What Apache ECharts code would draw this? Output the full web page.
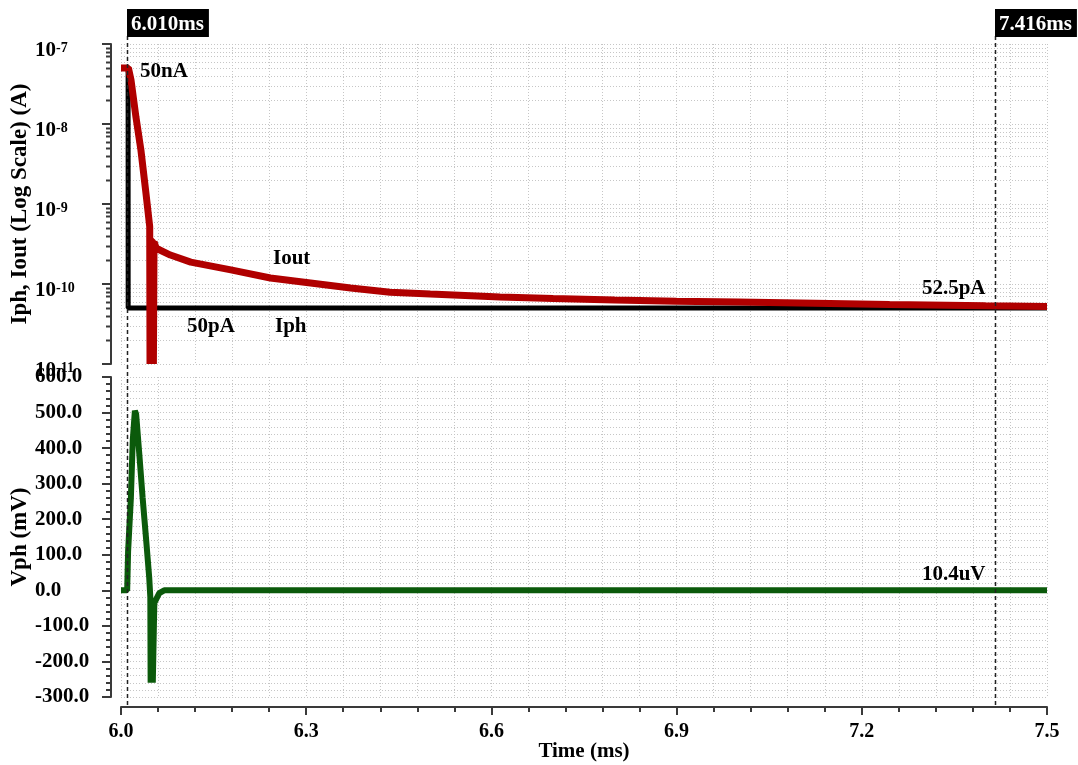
<!DOCTYPE html>
<html><head><meta charset="utf-8">
<script src="https://cdn.jsdelivr.net/npm/echarts@6/dist/echarts.min.js"></script>
<style>html,body{margin:0;padding:0;background:#fff}#c{width:1078px;height:765px}</style>
</head><body><div id="c"></div>
<script>
// ---------- data ----------
const iphTime = [6.000, 6.0115, 6.0116, 7.500];
const iphAmp  = [5e-8, 5e-8, 5e-11, 5e-11];

const ioutTime = [6.000, 6.012, 6.0162, 6.0242, 6.0323, 6.0404, 6.0465, 6.047, 6.0485, 6.052, 6.0525, 6.0535, 6.057, 6.060, 6.080, 6.113, 6.178, 6.242, 6.307, 6.372, 6.436, 6.501, 6.614, 6.700, 6.800, 6.900, 7.000, 7.100, 7.245, 7.400, 7.500];
const ioutAmp  = [5e-8, 5e-8, 3.55e-8, 1.22e-8, 4.7e-9, 1.37e-9, 5.2e-10, 1e-11, 3.5e-10, 3.3e-10, 1e-11, 3.35e-10, 2.8e-10, 2.66e-10, 2.3e-10, 1.88e-10, 1.50e-10, 1.19e-10, 1.03e-10, 8.9e-11, 7.9e-11, 7.5e-11, 6.9e-11, 6.6e-11, 6.3e-11, 6.1e-11, 5.95e-11, 5.8e-11, 5.55e-11, 5.35e-11, 5.25e-11];

const vphTime = [6.000, 6.010, 6.0115, 6.016, 6.019, 6.0225, 6.0245, 6.0296, 6.035, 6.0404, 6.0457, 6.0475, 6.048, 6.050, 6.0515, 6.054, 6.062, 6.070, 7.500];
const vphMilliVolt = [0, 0, 110, 260, 420, 505, 496, 384, 261, 149, 36, -20, -260, -140, -260, -35, -8, 0, 0.0104];

const timeTickLabels = ['6.0', '6.3', '6.6', '6.9', '7.2', '7.5'];
const logTickExponents = [-11, -10, -9, -8, -7];
const logMinorMultipliers = [2, 3, 4, 5, 6, 7, 8, 9];
const vphTickLabels = ['-300.0', '-200.0', '-100.0', '0.0', '100.0', '200.0', '300.0', '400.0', '500.0', '600.0'];

const cursorTimes  = [6.010, 7.416];
const cursorLabels = ['6.010ms', '7.416ms'];

const topNoteText  = ['50nA', 'Iout', '50pA', 'Iph', '52.5pA'];
const topNoteTime  = [6.0308, 6.2462, 6.1069, 6.2494, 7.2974];
const topNoteAmp   = [4.47e-8, 2.05e-10, 2.9e-11, 2.9e-11, 8.66e-11];
const botNoteText  = ['10.4uV'];
const botNoteTime  = [7.2974];
const botNoteMV    = [44.8];

// ---------- build ----------
const FONT = "'Liberation Serif','Times New Roman',serif";
const GRID_COLOR = '#c6c6c6';
const AXIS_COLOR = '#3a3a3a';
const T0 = 6.0, T1 = 7.5;
const zip = (a, b) => a.map((v, i) => [v, b[i]]);

const minorLogData = [];
logTickExponents.slice(0, -1).forEach(e => logMinorMultipliers.forEach(m => minorLogData.push([T0, m * Math.pow(10, e)])));

const gridLine = { show: true, lineStyle: { color: GRID_COLOR, width: 1, type: [1, 2] } };

function minorRender(params, api) {
  const v = api.value(1);
  const a = api.coord([T0, v]);
  const b = api.coord([T1, v]);
  const y = Math.round(a[1]) + 0.5;
  return { type: 'group', children: [
    { type: 'line', shape: { x1: a[0], y1: y, x2: b[0], y2: y }, style: { stroke: GRID_COLOR, lineWidth: 1, lineDash: [1, 2] } },
    { type: 'line', shape: { x1: a[0] - 10 - 5, y1: y, x2: a[0] - 10, y2: y }, style: { stroke: AXIS_COLOR, lineWidth: 2 } }
  ] };
}

function cursorRender(params, api) {
  const t = api.value(0);
  const top = api.coord([t, 1]);
  const bot = api.coord([t, 0]);
  const x = Math.round(top[0]) + 0.5;
  return { type: 'group', children: [
    { type: 'line', shape: { x1: x, y1: top[1], x2: x, y2: bot[1] }, style: { stroke: '#222', lineWidth: 1.5, lineDash: [4, 3] } },
    { type: 'text', style: { x: x - 0.5, y: top[1] + 1, text: cursorLabels[params.dataIndex], fill: '#fff', backgroundColor: '#000',
        padding: [5, 5, 2, 4], font: "bold 21px " + FONT, align: 'left', verticalAlign: 'bottom' } }
  ] };
}

const labelText = { fontFamily: FONT, fontWeight: 'bold', fontSize: 21, color: '#000', opacity: 1 };
const gridBase = { left: 121, right: 31, containLabel: false, outerBoundsMode: 'none' };

const option = {
  animation: false,
  backgroundColor: '#fff',
  grid: [
    Object.assign({ top: 44, height: 320 }, gridBase),
    Object.assign({ top: 377, height: 320 }, gridBase),
    Object.assign({ top: 36, height: 669 }, gridBase)
  ],
  xAxis: [
    { gridIndex: 0, type: 'value', min: T0, max: T1, interval: 0.3,
      axisLine: { show: false, onZero: false }, axisTick: { show: false }, axisLabel: { show: false },
      minorTick: { show: false, splitNumber: 5 }, splitLine: gridLine, minorSplitLine: gridLine },
    { gridIndex: 1, type: 'value', min: T0, max: T1, interval: 0.3, offset: 10,
      axisLine: { show: true, onZero: false, lineStyle: { color: AXIS_COLOR, width: 2 } },
      axisTick: { show: true, length: 8, inside: false, lineStyle: { color: AXIS_COLOR, width: 2 } },
      minorTick: { show: true, splitNumber: 5, length: 5, lineStyle: { color: AXIS_COLOR, width: 2 } },
      axisLabel: { margin: 15, fontSize: 20, fontFamily: FONT, fontWeight: 'bold', color: '#000',
        formatter: v => timeTickLabels[Math.round((v - T0) / 0.3)] },
      splitLine: gridLine, minorSplitLine: gridLine,
      name: 'Time (ms)', nameLocation: 'middle', nameGap: 34, nameMoveOverlap: false,
      nameTextStyle: { fontFamily: FONT, fontWeight: 'bold', fontSize: 21, color: '#000' } },
    { gridIndex: 2, type: 'value', min: T0, max: T1, show: false }
  ],
  yAxis: [
    { gridIndex: 0, type: 'log', logBase: 10, min: 1e-11, max: 1e-7, splitNumber: 4, offset: 10,
      axisLine: { show: true, onZero: false, lineStyle: { color: AXIS_COLOR, width: 2 } },
      axisTick: { show: true, length: 9, lineStyle: { color: AXIS_COLOR, width: 2 } },
      splitLine: gridLine,
      axisLabel: { align: 'left', margin: 76, padding: [15, 0, 0, 0],
        formatter: v => '{b|10}{s|' + logTickExponents[logTickExponents.indexOf(Math.round(Math.log10(v)))] + '}',
        rich: {
          b: { fontFamily: FONT, fontWeight: 'bold', fontSize: 21, color: '#000', lineHeight: 20, verticalAlign: 'bottom', padding: [5, 0, 0, 0] },
          s: { fontFamily: FONT, fontWeight: 'bold', fontSize: 14, color: '#000', lineHeight: 14, verticalAlign: 'top' }
        } },
      name: 'Iph, Iout (Log Scale) (A)', nameLocation: 'middle', nameGap: 79, nameRotate: 90, nameMoveOverlap: false,
      nameTextStyle: { fontFamily: FONT, fontWeight: 'bold', fontSize: 23, color: '#000' } },
    { gridIndex: 1, type: 'value', min: -300, max: 600, interval: 100, offset: 10,
      axisLine: { show: true, onZero: false, lineStyle: { color: AXIS_COLOR, width: 2 } },
      axisTick: { show: true, length: 9, lineStyle: { color: AXIS_COLOR, width: 2 } },
      minorTick: { show: true, splitNumber: 5, length: 5, lineStyle: { color: AXIS_COLOR, width: 2 } },
      splitLine: gridLine, minorSplitLine: gridLine,
      axisLabel: { align: 'left', margin: 76, fontFamily: FONT, fontWeight: 'bold', fontSize: 21, color: '#000',
        formatter: v => vphTickLabels[Math.round((v + 300) / 100)] },
      name: 'Vph (mV)', nameLocation: 'middle', nameGap: 79, nameRotate: 90, nameMoveOverlap: false,
      nameTextStyle: { fontFamily: FONT, fontWeight: 'bold', fontSize: 23, color: '#000' } },
    { gridIndex: 2, type: 'value', min: 0, max: 1, show: false }
  ],
  series: [
    { type: 'custom', xAxisIndex: 0, yAxisIndex: 0, renderItem: minorRender, data: minorLogData, z: 1, silent: true, clip: false },
    { name: 'Iph', type: 'line', xAxisIndex: 0, yAxisIndex: 0, data: zip(iphTime, iphAmp), showSymbol: false,
      lineStyle: { color: '#000', width: 5 }, z: 3 },
    { name: 'Iout', type: 'line', xAxisIndex: 0, yAxisIndex: 0, data: zip(ioutTime, ioutAmp), showSymbol: false,
      lineStyle: { color: '#b00000', width: 7 }, z: 4 },
    { name: 'Vph', type: 'line', xAxisIndex: 1, yAxisIndex: 1, data: zip(vphTime, vphMilliVolt), showSymbol: false,
      lineStyle: { color: '#0b5a0b', width: 6 }, z: 4 },
    { type: 'scatter', xAxisIndex: 0, yAxisIndex: 0, symbolSize: 0, z: 6, silent: true, itemStyle: { opacity: 1 },
      data: topNoteText.map((s, i) => [topNoteTime[i], topNoteAmp[i], s]),
      label: Object.assign({ show: true, position: 'right', distance: 0, formatter: p => p.data[2] }, labelText) },
    { type: 'scatter', xAxisIndex: 1, yAxisIndex: 1, symbolSize: 0, z: 6, silent: true, itemStyle: { opacity: 1 },
      data: botNoteText.map((s, i) => [botNoteTime[i], botNoteMV[i], s]),
      label: Object.assign({ show: true, position: 'right', distance: 0, formatter: p => p.data[2] }, labelText) },
    { type: 'custom', xAxisIndex: 2, yAxisIndex: 2, renderItem: cursorRender, data: cursorTimes.map(t => [t, 0]), z: 10, silent: true, clip: false }
  ]
};

echarts.init(document.getElementById('c'), null, { renderer: 'canvas' }).setOption(option);
</script>
</body></html>
